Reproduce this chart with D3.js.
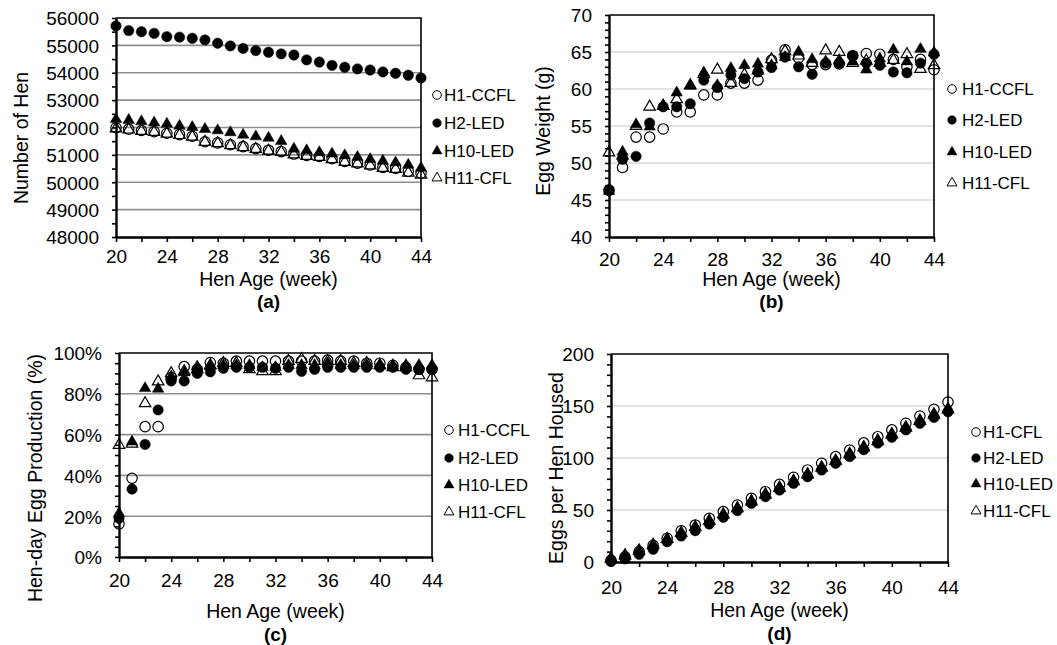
<!DOCTYPE html>
<html><head><meta charset="utf-8">
<script src="https://cdn.jsdelivr.net/npm/d3@7"></script>
<style>
body{margin:0;background:#fff}
svg{display:block}
text{font-family:"Liberation Sans",Arial,sans-serif;fill:#000}
</style>
</head><body>
<svg id="chart" width="1057" height="645"></svg>
<script>
// ---------- DATA ----------
const weeks = [20,21,22,23,24,25,26,27,28,29,30,31,32,33,34,35,36,37,38,39,40,41,42,43,44];
const xTickValues = [20,22,24,26,28,30,32,34,36,38,40,42,44];
const xTickLabels = [20,24,28,32,36,40,44];

// (a) Number of Hen
const henA_H1 = [51990,51940,51890,51850,51790,51740,51680,51480,51440,51370,51300,51230,51170,51120,51030,50980,50940,50860,50760,50700,50630,50540,50510,50400,50330];
const henA_H2 = [55710,55540,55500,55440,55320,55300,55260,55200,55080,54980,54890,54810,54750,54690,54650,54470,54390,54270,54200,54140,54100,54030,53980,53910,53810];
const henA_H10 = [52300,52270,52220,52180,52130,52060,52010,51940,51890,51820,51730,51670,51620,51500,51220,51160,51090,51040,50980,50920,50840,50780,50720,50630,50520];
const henA_H11 = [51960,51920,51870,51830,51770,51720,51660,51470,51420,51350,51280,51210,51150,51100,51010,50960,50920,50840,50740,50680,50610,50520,50480,50340,50270];

// (b) Egg Weight (g)
const wtB_H1 = [46.3,49.4,53.5,53.5,54.6,56.9,56.9,59.2,59.2,60.8,60.8,61.2,63.9,65.3,64.2,63.3,63.3,63.4,64.5,64.8,64.7,64.0,63.0,64.0,62.6];
const wtB_H2 = [46.4,50.5,50.9,55.4,57.6,57.6,58.0,61.2,60.2,61.9,61.4,62.3,62.9,64.3,63.0,62.0,63.5,63.5,64.5,63.5,63.2,62.3,62.2,63.5,64.7];
const wtB_H10 = [46.2,51.5,55.2,54.9,57.8,59.5,60.4,62.2,60.5,62.8,63.2,63.4,63.2,64.3,65.0,64.0,63.7,63.9,63.7,62.6,64.1,65.3,63.7,65.4,64.9];
const wtB_H11 = [51.4,51.0,55.0,57.6,57.7,58.6,60.5,62.0,62.6,60.8,61.9,62.5,64.0,65.1,64.5,63.5,65.2,65.0,63.5,63.8,63.5,63.9,64.7,62.7,63.2];

// (c) Hen-day Egg Production (%)
const prodC_H1 = [16.2,38.6,63.9,63.9,88,93.3,92,95.3,95,96,96,96,96,96,96,96,96.5,96,96,95,95,94,93,92,92];
const prodC_H2 = [19.0,33.3,55.2,72.1,86.3,86.3,90,90.8,92.5,93,93,93,92.5,93,91,92,93,93,93,93,93,93,92,92,92];
const prodC_H10 = [21.4,56.5,82.7,82.4,88.4,90.4,93.3,93.5,94,94,94,93,93,94,94,94,95,94,94,94,94,94,94,94,94];
const prodC_H11 = [54.9,55.5,75.3,86,90,91,92,94,95,95,92,91,91,96,97,96,96,96,95,95,94,93,93,89,88];

// (d) Eggs per Hen Housed
const eggsD_H1 = [1.5,5,10,16,22.8,30,35.6,42,48.4,54.8,61.2,67.6,74.6,81.4,88.5,94.9,101.3,107.7,114.5,120.5,127,133.3,140.4,146.8,153.8];
const eggsD_H2 = [0.5,3,7.4,12.2,19.5,25,30.1,36.5,43,49.4,56.4,62.8,69.2,75.6,82,88.5,94.9,101.3,108,114.3,120,127,133.3,139,144.5];
const eggsD_H10 = [2.5,5.5,10,15.5,21.5,27.5,33,39.5,46,52,59,65.5,72,78.5,85,91.5,98,104.5,111,117.5,123.5,130,136.5,142.5,147.5];
const eggsD_H11 = [3.5,6.5,11,16.5,22,28,33.5,39.5,45.5,51.5,58,64.5,71,77.5,84,90.5,97,103.5,110,116,122.5,129,135.5,141.5,146.5];

const legendNamesABC = ["H1-CCFL","H2-LED","H10-LED","H11-CFL"];
const legendNamesD = ["H1-CFL","H2-LED","H10-LED","H11-CFL"];

// marker styles per series order: H1 open circle, H2 filled circle, H10 filled triangle, H11 open triangle
const markerKinds = [
  {type: d3.symbolCircle, filled:false},
  {type: d3.symbolCircle, filled:true},
  {type: d3.symbolTriangle, filled:true},
  {type: d3.symbolTriangle, filled:false}
];

// ---------- LAYOUT ----------
const panels = [
  {series:[henA_H1,henA_H2,henA_H10,henA_H11], names:legendNamesABC,
   x0:116,x1:421,yTop:18,yBot:237,dom:[48000,56000],major:1000,minor:500,grid:"#8f8f8f",
   fmt:d=>String(d), ytitle:"Number of Hen", ytx:21, yty:138,
   xTickY:256, xTitleY:279, label:"(a)", labelY:301,
   leg:{mx:437,tx:444,ys:[95,123,151,178]}},
  {series:[wtB_H1,wtB_H2,wtB_H10,wtB_H11], names:legendNamesABC,
   x0:609,x1:934,yTop:15,yBot:237,dom:[40,70],major:5,minor:1,grid:"#d9d9d9",
   fmt:d=>String(d), ytitle:"Egg Weight (g)", ytx:543, yty:131,
   xTickY:259, xTitleY:279, label:"(b)", labelY:301,
   leg:{mx:952,tx:962,ys:[89,120,152,183]}},
  {series:[prodC_H1,prodC_H2,prodC_H10,prodC_H11], names:legendNamesABC,
   x0:119,x1:432,yTop:353,yBot:557,dom:[0,100],major:20,minor:5,grid:"#8f8f8f",
   fmt:d=>d+"%", ytitle:"Hen-day Egg Production (%)", ytx:35, yty:478,
   xTickY:580, xTitleY:611, label:"(c)", labelY:634,
   leg:{mx:449,tx:458,ys:[430,458,485,512]}},
  {series:[eggsD_H1,eggsD_H2,eggsD_H10,eggsD_H11], names:legendNamesD,
   x0:611,x1:948,yTop:354,yBot:562,dom:[0,200],major:50,minor:10,grid:"#d9d9d9",
   fmt:d=>String(d), ytitle:"Eggs per Hen Housed", ytx:556, yty:468,
   xTickY:587, xTitleY:610, label:"(d)", labelY:633,
   leg:{mx:976,tx:983,ys:[432,458,484,511]}}
];

const svg = d3.select("#chart");

function drawPanel(p){
  const g = svg.append("g");
  const x = d3.scaleLinear().domain([20,44]).range([p.x0,p.x1]);
  const y = d3.scaleLinear().domain(p.dom).range([p.yBot,p.yTop]);
  const majors = d3.range(p.dom[0], p.dom[1]+p.major/2, p.major);
  const minors = d3.range(p.dom[0], p.dom[1]+p.minor/2, p.minor).filter(v=>!majors.includes(v));

  // gridlines
  g.append("g").selectAll("line").data(majors.filter(v=>v>p.dom[0] && v<p.dom[1])).join("line")
    .attr("x1",p.x0).attr("x2",p.x1).attr("y1",d=>y(d)).attr("y2",d=>y(d))
    .attr("stroke",p.grid).attr("stroke-width",1.6);

  // border (top, right)
  g.append("path").attr("d",`M${p.x0},${p.yTop}H${p.x1}V${p.yBot}`)
    .attr("fill","none").attr("stroke","#000").attr("stroke-width",1.6);

  // y minor ticks
  const yMinor = g.append("g").attr("transform",`translate(${p.x0},0)`)
    .call(d3.axisLeft(y).tickValues(minors).tickSize(4).tickFormat(""));
  yMinor.select(".domain").remove();
  yMinor.selectAll("line").attr("stroke-width",1.6);

  // y axis
  const yAx = g.append("g").attr("transform",`translate(${p.x0},0)`)
    .call(d3.axisLeft(y).tickValues(majors).tickSize(4).tickSizeOuter(0).tickPadding(13).tickFormat(p.fmt));
  yAx.select(".domain").attr("stroke-width",2.4);
  yAx.selectAll("line").attr("stroke-width",1.6);
  yAx.selectAll("text").attr("font-size",19).attr("font-family",'"Liberation Sans",Arial,sans-serif').attr("dy","0.36em");

  // x axis
  const xAx = g.append("g").attr("transform",`translate(0,${p.yBot})`)
    .call(d3.axisBottom(x).tickValues(xTickValues).tickSize(5).tickSizeOuter(0)
      .tickFormat(d=>xTickLabels.includes(d)?String(d):""));
  xAx.select(".domain").attr("stroke-width",2.4);
  xAx.selectAll("line").attr("stroke-width",1.6);
  xAx.selectAll("text").attr("font-size",19).attr("font-family",'"Liberation Sans",Arial,sans-serif')
    .attr("y",p.xTickY-p.yBot).attr("dy","0.36em");

  // titles
  const xc = (p.x0+p.x1)/2;
  g.append("text").attr("x",xc).attr("y",p.xTitleY).attr("dy","0.36em").attr("text-anchor","middle")
    .attr("font-size",19.5).text("Hen Age (week)");
  g.append("text").attr("x",xc).attr("y",p.labelY).attr("dy","0.36em").attr("text-anchor","middle")
    .attr("font-size",19).attr("font-weight","bold").text(p.label);
  g.append("text").attr("transform",`translate(${p.ytx},${p.yty}) rotate(-90)`).attr("dy","0.36em")
    .attr("text-anchor","middle").attr("font-size",19.5).text(p.ytitle);

  // markers
  p.series.forEach((vals,si)=>{
    const mk = markerKinds[si];
    const size = mk.type===d3.symbolCircle ? Math.PI*5.2*5.2 : Math.sqrt(3)/4*11.5*11.5;
    const sym = d3.symbol().type(mk.type).size(size);
    g.append("g").selectAll("path").data(vals).join("path")
      .attr("d",sym)
      .attr("transform",(d,i)=>`translate(${x(weeks[i])},${y(d)})`)
      .attr("fill",mk.filled?"#000":"none")
      .attr("stroke","#000").attr("stroke-width",mk.filled?0.5:1.2);
  });

  // legend
  p.names.forEach((nm,i)=>{
    const mk = markerKinds[i];
    const size = mk.type===d3.symbolCircle ? Math.PI*4.3*4.3 : Math.sqrt(3)/4*10*10;
    g.append("path").attr("d",d3.symbol().type(mk.type).size(size)())
      .attr("transform",`translate(${p.leg.mx},${p.leg.ys[i]})`)
      .attr("fill",mk.filled?"#000":"none").attr("stroke","#000").attr("stroke-width",mk.filled?0.5:1);
    g.append("text").attr("x",p.leg.tx).attr("y",p.leg.ys[i]).attr("dy","0.36em")
      .attr("font-size",17).text(nm);
  });
}

panels.forEach(drawPanel);
</script>
</body></html>
